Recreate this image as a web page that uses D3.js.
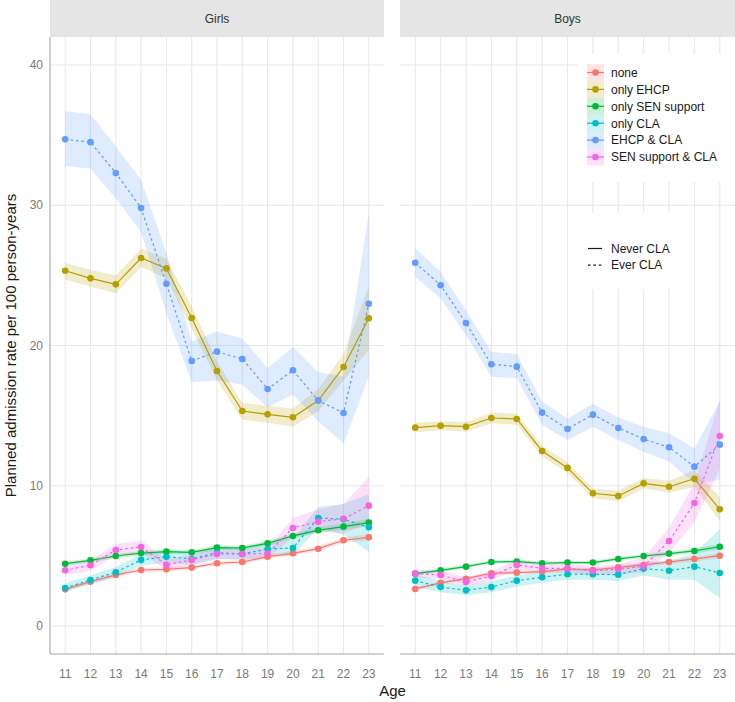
<!DOCTYPE html>
<meta charset="utf-8">
<style>
body { margin: 0; background: #fff; }
text { font-family: "Liberation Sans", Arial, sans-serif; }
.tick-label { font-size: 12px; fill: #7a7a7a; }
.grid { stroke: #e8e8e8; stroke-width: 1.1; }
</style>
<body>
<div id="chart"></div>
<script src="https://cdn.jsdelivr.net/npm/d3@7"></script>
<script>

var ages = [11, 12, 13, 14, 15, 16, 17, 18, 19, 20, 21, 22, 23];
var yTicks = [0, 10, 20, 30, 40];
var groups = ["none", "only EHCP", "only SEN support", "only CLA", "EHCP & CLA", "SEN support & CLA"];
var groupColours = ["#F8766D", "#B79F00", "#00BA38", "#00BFC4", "#619CFF", "#F564E3"];
var groupEverCLA = [false, false, false, true, true, true];
var panels = ["Girls", "Boys"];
var lineTypes = ["Never CLA", "Ever CLA"];

// girls
var girls_none     = [2.61, 3.16, 3.64, 3.99, 4.04, 4.16, 4.47, 4.56, 4.94, 5.18, 5.51, 6.11, 6.32];
var girls_none_lo  = [2.47, 3.02, 3.50, 3.85, 3.90, 4.02, 4.33, 4.42, 4.79, 5.02, 5.34, 5.92, 6.10];
var girls_none_hi  = [2.75, 3.30, 3.78, 4.13, 4.18, 4.30, 4.61, 4.70, 5.09, 5.34, 5.68, 6.30, 6.54];
var girls_ehcp     = [25.33, 24.79, 24.36, 26.24, 25.5, 21.96, 18.18, 15.33, 15.09, 14.88, 16.07, 18.47, 21.94];
var girls_ehcp_lo  = [24.7, 24.2, 23.7, 25.6, 24.8, 21.2, 17.5, 14.7, 14.5, 14.2, 15.3, 17.5, 19.7];
var girls_ehcp_hi  = [25.9, 25.4, 25.0, 26.9, 26.2, 22.8, 18.9, 15.9, 15.7, 15.5, 16.9, 19.4, 24.2];
var girls_sen      = [4.44, 4.68, 4.99, 5.2, 5.3, 5.25, 5.59, 5.56, 5.89, 6.42, 6.82, 7.08, 7.37];
var girls_sen_lo   = [4.29, 4.53, 4.84, 5.05, 5.15, 5.1, 5.43, 5.4, 5.72, 6.24, 6.62, 6.86, 7.12];
var girls_sen_hi   = [4.59, 4.83, 5.14, 5.35, 5.45, 5.4, 5.75, 5.72, 6.06, 6.6, 7.02, 7.3, 7.62];
var girls_cla      = [2.71, 3.28, 3.83, 4.71, 4.94, 4.78, 5.23, 5.13, 5.49, 5.56, 7.7, 7.61, 7.04];
var girls_cla_lo   = [2.4, 2.95, 3.45, 4.3, 4.5, 4.35, 4.8, 4.7, 5.0, 5.0, 7.0, 6.5, 5.3];
var girls_cla_hi   = [3.05, 3.6, 4.2, 5.1, 5.4, 5.2, 5.7, 5.6, 6.0, 6.2, 8.5, 8.7, 9.4];
var girls_ehcpcla    = [34.7, 34.5, 32.3, 29.8, 24.4, 18.9, 19.56, 19.04, 16.9, 18.23, 16.07, 15.19, 22.98];
var girls_ehcpcla_lo = [32.8, 32.6, 30.5, 28.1, 22.3, 17.4, 17.5, 17.2, 15.6, 16.5, 14.6, 13.0, 17.8];
var girls_ehcpcla_hi = [36.7, 36.5, 34.2, 31.8, 26.6, 20.3, 21.0, 20.5, 18.4, 19.9, 18.1, 17.8, 29.4];
var girls_sencla     = [3.97, 4.33, 5.42, 5.63, 4.37, 4.71, 5.13, 5.13, 5.16, 6.99, 7.44, 7.65, 8.58];
var girls_sencla_lo  = [3.6, 3.95, 5.0, 5.2, 4.0, 4.35, 4.75, 4.75, 4.8, 6.3, 6.7, 6.6, 7.3];
var girls_sencla_hi  = [4.35, 4.7, 5.85, 6.1, 4.75, 5.1, 5.5, 5.5, 5.55, 7.7, 8.3, 8.7, 10.6];

// boys
var boys_none     = [2.64, 3.07, 3.37, 3.76, 3.8, 3.87, 4.06, 3.99, 4.18, 4.35, 4.56, 4.78, 5.01];
var boys_none_lo  = [2.52, 2.95, 3.25, 3.64, 3.68, 3.75, 3.94, 3.87, 4.06, 4.22, 4.42, 4.62, 4.82];
var boys_none_hi  = [2.76, 3.19, 3.49, 3.88, 3.92, 3.99, 4.18, 4.11, 4.30, 4.48, 4.70, 4.94, 5.20];
var boys_ehcp     = [14.14, 14.28, 14.21, 14.83, 14.76, 12.48, 11.27, 9.46, 9.27, 10.17, 9.93, 10.5, 8.32];
var boys_ehcp_lo  = [13.8, 13.95, 13.85, 14.45, 14.35, 12.1, 10.9, 9.1, 8.9, 9.8, 9.5, 9.9, 7.5];
var boys_ehcp_hi  = [14.5, 14.6, 14.55, 15.2, 15.15, 12.85, 11.65, 9.8, 9.65, 10.55, 10.35, 11.1, 9.2];
var boys_sen      = [3.73, 3.97, 4.23, 4.56, 4.59, 4.47, 4.52, 4.52, 4.78, 4.99, 5.16, 5.35, 5.65];
var boys_sen_lo   = [3.61, 3.85, 4.11, 4.44, 4.47, 4.35, 4.40, 4.40, 4.65, 4.85, 5.01, 5.18, 5.45];
var boys_sen_hi   = [3.85, 4.09, 4.35, 4.68, 4.71, 4.59, 4.64, 4.64, 4.91, 5.13, 5.31, 5.52, 5.85];
var boys_cla      = [3.23, 2.78, 2.54, 2.78, 3.23, 3.47, 3.69, 3.69, 3.66, 4.09, 3.94, 4.23, 3.78];
var boys_cla_lo   = [2.8, 2.4, 2.2, 2.4, 2.8, 3.1, 3.3, 3.3, 3.2, 3.6, 3.3, 3.3, 2.0];
var boys_cla_hi   = [3.7, 3.2, 2.9, 3.2, 3.6, 3.9, 4.1, 4.1, 4.1, 4.6, 4.6, 5.2, 6.9];
var boys_ehcpcla    = [25.9, 24.3, 21.6, 18.66, 18.49, 15.21, 14.05, 15.07, 14.12, 13.33, 12.74, 11.36, 12.93];
var boys_ehcpcla_lo = [24.9, 23.36, 20.75, 17.78, 17.66, 14.33, 13.26, 14.21, 13.26, 12.43, 11.72, 10.17, 10.41];
var boys_ehcpcla_hi = [26.93, 25.26, 22.5, 19.56, 19.39, 16.0, 14.8, 15.83, 14.88, 14.21, 13.74, 12.67, 16.0];
var boys_sencla     = [3.73, 3.64, 3.14, 3.57, 4.35, 4.11, 4.11, 3.94, 4.04, 4.25, 6.06, 8.77, 13.55];
var boys_sencla_lo  = [3.45, 3.35, 2.85, 3.25, 4.0, 3.8, 3.8, 3.65, 3.7, 3.8, 5.2, 7.4, 11.2];
var boys_sencla_hi  = [4.0, 3.95, 3.45, 3.9, 4.7, 4.45, 4.45, 4.25, 4.4, 4.9, 7.0, 10.2, 16.1];

var panelSeries = {
  "Girls": [[girls_none, girls_none_lo, girls_none_hi],
            [girls_ehcp, girls_ehcp_lo, girls_ehcp_hi],
            [girls_sen, girls_sen_lo, girls_sen_hi],
            [girls_cla, girls_cla_lo, girls_cla_hi],
            [girls_ehcpcla, girls_ehcpcla_lo, girls_ehcpcla_hi],
            [girls_sencla, girls_sencla_lo, girls_sencla_hi]],
  "Boys":  [[boys_none, boys_none_lo, boys_none_hi],
            [boys_ehcp, boys_ehcp_lo, boys_ehcp_hi],
            [boys_sen, boys_sen_lo, boys_sen_hi],
            [boys_cla, boys_cla_lo, boys_cla_hi],
            [boys_ehcpcla, boys_ehcpcla_lo, boys_ehcpcla_hi],
            [boys_sencla, boys_sencla_lo, boys_sencla_hi]]
};

var WIDTH = 735, HEIGHT = 702;
var STRIP_H = 37;
var PANEL_TOP = 37, PANEL_BOTTOM = 654;
var panelX = {"Girls": [50, 384], "Boys": [400, 735]};
var DASH = "2.6,2.8";

var svg = d3.select("#chart").append("svg")
    .attr("width", WIDTH)
    .attr("height", HEIGHT);

var y = d3.scaleLinear().domain([-2, 42]).range([PANEL_BOTTOM, PANEL_TOP]);

panels.forEach(function(p) {
  var x = d3.scaleLinear().domain([10.4, 23.6]).range(panelX[p]);
  var g = svg.append("g");

  // strip
  g.append("rect")
      .attr("x", panelX[p][0]).attr("y", 0)
      .attr("width", panelX[p][1] - panelX[p][0]).attr("height", STRIP_H)
      .attr("fill", "#e5e5e5");
  g.append("text")
      .attr("x", (panelX[p][0] + panelX[p][1]) / 2).attr("y", 23)
      .attr("text-anchor", "middle")
      .style("font-size", "12px").attr("fill", "#333")
      .text(p);

  // grid
  g.selectAll(".hgrid").data(yTicks).enter().append("line")
      .attr("class", "grid")
      .attr("x1", panelX[p][0]).attr("x2", panelX[p][1])
      .attr("y1", function(d) { return y(d); }).attr("y2", function(d) { return y(d); });
  g.selectAll(".vgrid").data(ages).enter().append("line")
      .attr("class", "grid")
      .attr("x1", function(d) { return x(d); }).attr("x2", function(d) { return x(d); })
      .attr("y1", PANEL_TOP).attr("y2", PANEL_BOTTOM);

  // x tick labels
  g.selectAll(".xlab").data(ages).enter().append("text")
      .attr("class", "tick-label")
      .attr("x", function(d) { return x(d); }).attr("y", 678)
      .attr("text-anchor", "middle")
      .text(function(d) { return d; });

  // axis lines
  g.append("line")
      .attr("x1", panelX[p][0]).attr("x2", panelX[p][1])
      .attr("y1", PANEL_BOTTOM).attr("y2", PANEL_BOTTOM)
      .attr("stroke", "#a6a6a6").attr("stroke-width", 1.1);
  if (p == "Girls") {
    g.append("line")
        .attr("x1", panelX[p][0]).attr("x2", panelX[p][0])
        .attr("y1", PANEL_TOP).attr("y2", PANEL_BOTTOM)
        .attr("stroke", "#a6a6a6").attr("stroke-width", 1.1);
  }

  var series = panelSeries[p];
  var area = d3.area()
      .x(function(d, i) { return x(ages[i]); })
      .y0(function(d) { return y(d[0]); })
      .y1(function(d) { return y(d[1]); });
  var line = d3.line()
      .x(function(d, i) { return x(ages[i]); })
      .y(function(d) { return y(d); });

  // ribbons
  series.forEach(function(s, k) {
    g.append("path")
        .datum(d3.zip(s[1], s[2]))
        .attr("d", area)
        .attr("fill", groupColours[k])
        .attr("fill-opacity", 0.2);
  });
  // lines
  series.forEach(function(s, k) {
    g.append("path")
        .datum(s[0])
        .attr("d", line)
        .attr("fill", "none")
        .attr("stroke", groupColours[k])
        .attr("stroke-width", 1.2)
        .attr("stroke-dasharray", groupEverCLA[k] ? DASH : null);
  });
  // points
  series.forEach(function(s, k) {
    g.selectAll(".pt" + k).data(s[0]).enter().append("circle")
        .attr("cx", function(d, i) { return x(ages[i]); })
        .attr("cy", function(d) { return y(d); })
        .attr("r", 3.3)
        .attr("fill", groupColours[k]);
  });
});

// y tick labels
svg.selectAll(".ylab").data(yTicks).enter().append("text")
    .attr("class", "tick-label")
    .attr("x", 43).attr("y", function(d) { return y(d) + 4; })
    .attr("text-anchor", "end")
    .text(function(d) { return d; });

// axis titles
svg.append("text")
    .attr("x", (50 + 735) / 2).attr("y", 696)
    .attr("text-anchor", "middle")
    .style("font-size", "15px").attr("fill", "#1a1a1a")
    .text("Age");
svg.append("text")
    .attr("transform", "translate(16," + ((PANEL_TOP + PANEL_BOTTOM) / 2) + ") rotate(-90)")
    .attr("text-anchor", "middle")
    .style("font-size", "15px").attr("fill", "#1a1a1a")
    .text("Planned admission rate per 100 person-years");

// colour legend
var leg = svg.append("g");
leg.append("rect")
    .attr("x", 578).attr("y", 54).attr("width", 157).attr("height", 128)
    .attr("fill", "#fff");
var items = leg.selectAll(".item").data(groups).enter().append("g")
    .attr("transform", function(d, i) { return "translate(0," + (72.5 + 16.9 * i) + ")"; });
items.append("rect")
    .attr("x", 587).attr("y", -8.4).attr("width", 17).attr("height", 16.8)
    .attr("fill", function(d, i) { return groupColours[i]; })
    .attr("fill-opacity", 0.2);
items.append("line")
    .attr("x1", 587).attr("x2", 604).attr("y1", 0).attr("y2", 0)
    .attr("stroke", function(d, i) { return groupColours[i]; })
    .attr("stroke-width", 1.2);
items.append("circle")
    .attr("cx", 595.5).attr("cy", 0).attr("r", 3.3)
    .attr("fill", function(d, i) { return groupColours[i]; });
items.append("text")
    .attr("x", 611).attr("y", 4.3)
    .style("font-size", "12px").attr("fill", "#1a1a1a")
    .text(function(d) { return d; });

// linetype legend
var leg2 = svg.append("g");
leg2.append("rect")
    .attr("x", 578).attr("y", 213).attr("width", 112).attr("height", 76)
    .attr("fill", "#fff");
var items2 = leg2.selectAll(".item2").data(lineTypes).enter().append("g")
    .attr("transform", function(d, i) { return "translate(0," + (248.5 + 16.6 * i) + ")"; });
items2.append("line")
    .attr("x1", 588).attr("x2", 602).attr("y1", 0).attr("y2", 0)
    .attr("stroke", "#1a1a1a").attr("stroke-width", 1.2)
    .attr("stroke-dasharray", function(d, i) { return i == 1 ? DASH : null; });
items2.append("text")
    .attr("x", 611).attr("y", 4.3)
    .style("font-size", "12px").attr("fill", "#1a1a1a")
    .text(function(d) { return d; });

</script>
</body>
